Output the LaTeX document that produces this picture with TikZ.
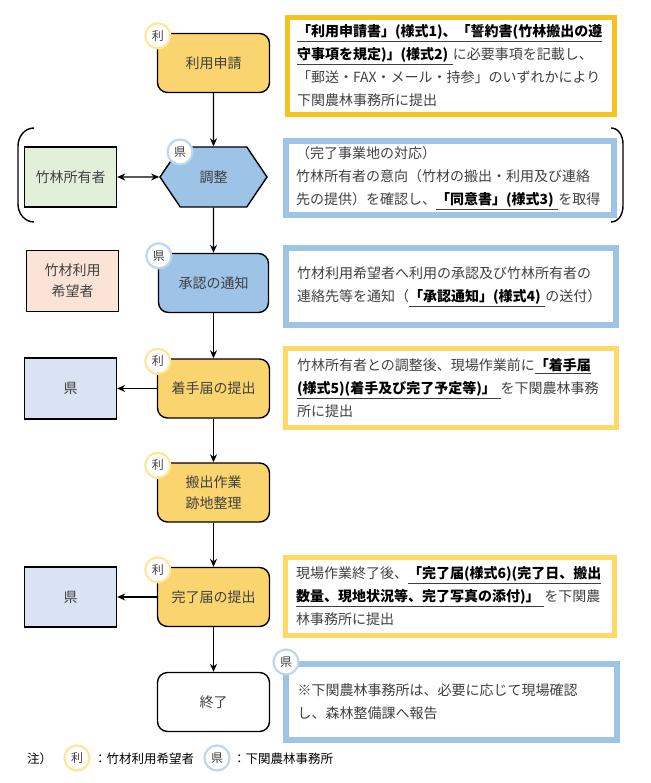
\documentclass[tikz,border=0pt]{standalone}
\usepackage{fontspec}
\setmainfont{Noto Sans CJK JP}
\usetikzlibrary{shapes.symbols,arrows.meta}
\definecolor{inkgray}{RGB}{64,64,64}
\definecolor{stepyellow}{RGB}{250,212,110}
\definecolor{stepblue}{RGB}{157,195,230}
\definecolor{ownergreen}{RGB}{226,239,217}
\definecolor{userpink}{RGB}{251,228,213}
\definecolor{kenfill}{RGB}{218,227,243}
\definecolor{framegold}{RGB}{246,194,30}
\definecolor{frameyellow}{RGB}{255,217,102}
\definecolor{frameblue}{RGB}{157,195,230}
\definecolor{ribadge}{RGB}{255,230,153}
\definecolor{kenbadge}{RGB}{189,215,238}
\newcommand\keydoc[1]{\underline{\textbf{\color{black}#1}}}
\tikzstyle{flow} = [draw=black, line width=1.4pt, rounded corners=10pt, minimum width=112pt, minimum height=59pt, text=inkgray, font={\fontsize{14}{21}\selectfont}, align=center]
\tikzstyle{yellowflow} = [flow, fill=stepyellow]
\tikzstyle{blueflow} = [flow, fill=stepblue]
\tikzstyle{party} = [draw=black, line width=1.4pt, minimum width=92pt, minimum height=60pt, text=inkgray, font={\fontsize{14}{21}\selectfont}, align=center]
\tikzstyle{note} = [line width=5pt, text width=308pt, align=left, text=inkgray, font={\fontsize{14}{23}\selectfont}]
\tikzstyle{notegold} = [note, draw=framegold]
\tikzstyle{noteyellow} = [note, draw=frameyellow]
\tikzstyle{noteblue} = [note, draw=frameblue, line width=6pt]
\tikzstyle{badge} = [circle, fill=white, line width=2.2pt, minimum size=25pt, inner sep=0pt, text=inkgray, font={\fontsize{12}{12}\selectfont}]
\tikzstyle{ri} = [badge, draw=ribadge]
\tikzstyle{ken} = [badge, draw=kenbadge]
\tikzstyle{legendtext} = [anchor=west, inner sep=0pt, font={\fontsize{12.5}{12.5}\selectfont}]
\tikzstyle{flowline} = [-{Stealth[length=8pt,width=7pt]}, line width=1.4pt]

\begin{document}
\begin{tikzpicture}[x=1pt,y=-1pt]
        \useasboundingbox (0,0) rectangle (650,783);
        % main flow
        \node[yellowflow](apply) at (213.5,63){利用申請};
        \node[signal, signal to=west and east, signal pointer angle=112, draw=black, line width=1.4pt, fill=stepblue, minimum width=107pt, minimum height=60pt, text=inkgray, font={\fontsize{14}{21}\selectfont}](adjust) at (213.5,177){調整};
        \node[blueflow, minimum width=110pt](notice) at (213.5,283){承認の通知};
        \node[yellowflow](start) at (213.5,388.5){着手届の提出};
        \node[yellowflow](work) at (213.5,492.5){搬出作業\\跡地整理};
        \node[yellowflow](finish) at (213.5,597){完了届の提出};
        \node[flow, fill=white](end) at (213.5,702){終了};
        % parties
        \node[party, fill=ownergreen](owner) at (70.5,177){竹林所有者};
        \node[party, fill=userpink, minimum height=61pt](user) at (72.5,281){竹材利用\\希望者};
        \node[party, fill=kenfill, minimum height=61pt](ken1) at (70.5,388.5){県};
        \node[party, fill=kenfill](ken2) at (70.5,597){県};
        % notes
        \node[notegold, minimum width=327pt, minimum height=97pt](n1) at (451,66){\keydoc{「利用申請書」(様式1)、「誓約書(竹林搬出の遵}\\\keydoc{守事項を規定)」(様式2) }に必要事項を記載し、\\「郵送・FAX・メール・持参」のいずれかにより\\下関農林事務所に提出};
        \node[noteblue, minimum width=328pt, minimum height=74pt](n2) at (450,178){（完了事業地の対応）\\竹林所有者の意向（竹材の搬出・利用及び連絡\\先の提供）を確認し、\keydoc{ 「同意書」(様式3) }を取得};
        \node[noteblue, minimum width=330pt, minimum height=77pt](n3) at (451,286.5){竹材利用希望者へ利用の承認及び竹林所有者の\\連絡先等を通知（\keydoc{「承認通知」(様式4) }の送付）};
        \node[noteyellow, minimum width=331pt, minimum height=79pt](n4) at (451,388){竹林所有者との調整後、現場作業前に\keydoc{ 「着手届}\\\keydoc{(様式5)(着手及び完了予定等)」 }を下関農林事務\\所に提出};
        \node[noteyellow, minimum width=329pt, minimum height=78pt](n6) at (450,596.5){現場作業終了後、\keydoc{「完了届(様式6)(完了日、搬出}\\\keydoc{数量、現地状況等、完了写真の添付)」 }を下関農\\林事務所に提出};
        \node[noteblue, minimum width=331pt, minimum height=76pt](n7) at (451.5,702){※下関農林事務所は、必要に応じて現場確認\\し、森林整備課へ報告};
        % badges
        \node[ri](b1) at ([shift={(1,3)}]apply.north west){利};
        \node[ken](b2) at (180,152){県};
        \node[ken](b3) at ([shift={(1,3)}]notice.north west){県};
        \node[ri](b4) at ([shift={(1,3)}]start.north west){利};
        \node[ri](b5) at ([shift={(1,3)}]work.north west){利};
        \node[ri](b6) at ([shift={(1,3)}]finish.north west){利};
        \node[ken](b7) at (286,662){県};
        % brackets
        \draw[line width=1.4pt](34,128) to[out=180,in=90](18,146) -- (18,204) to[out=-90,in=180](34,222);
        \draw[line width=1.4pt](611,128) to[out=0,in=90](623,144) -- (623,206) to[out=-90,in=0](611,222);
        % connectors
        \draw[flowline](apply)--(adjust);
        \draw[flowline](adjust)--(notice);
        \draw[flowline](notice)--(start);
        \draw[flowline](start)--(work);
        \draw[flowline](work)--(finish);
        \draw[flowline](finish)--(end);
        \draw[flowline,{Stealth[length=8pt,width=7pt]}-{Stealth[length=8pt,width=7pt]}](owner)--(adjust);
        \draw[flowline](start)--(ken1);
        \draw[flowline](finish)--(ken2);
        % legend
        \node[legendtext](legend) at (27,759){注）};
        \node[ri](lri) at (77,758){利};
        \node[legendtext](lritext) at (94,759){：竹材利用希望者};
        \node[ken](lken) at (217,758){県};
        \node[legendtext](lkentext) at (233,759){：下関農林事務所};
      \end{tikzpicture}
\end{document}
